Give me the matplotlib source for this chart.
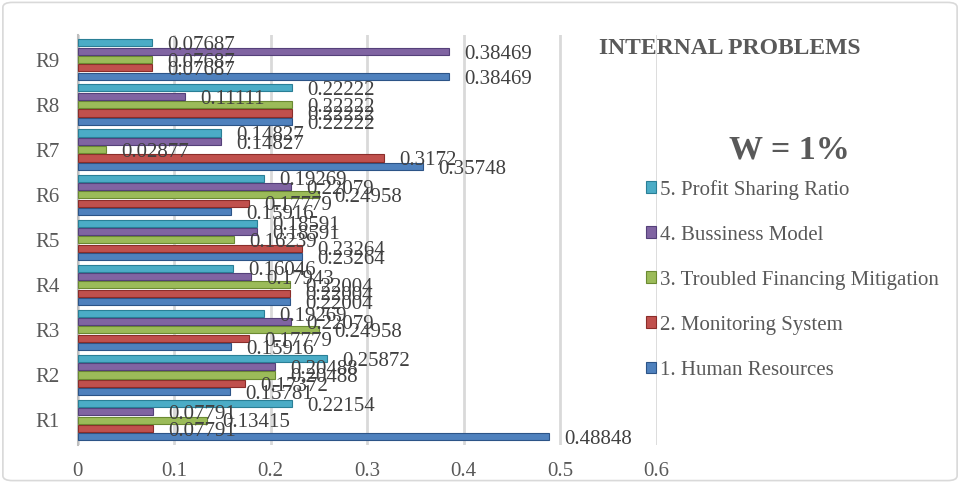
import matplotlib.pyplot as plt
import numpy as np
from matplotlib.patches import FancyBboxPatch

plt.rcParams['font.family'] = ['Liberation Serif', 'DejaVu Serif']

regions = ['R1', 'R2', 'R3', 'R4', 'R5', 'R6', 'R7', 'R8', 'R9']

series_names = ['1. Human Resources', '2. Monitoring System',
                '3. Troubled Financing Mitigation', '4. Bussiness Model',
                '5. Profit Sharing Ratio']

human_resources = [0.48848, 0.15781, 0.15916, 0.22004, 0.23264, 0.15916, 0.35748, 0.22222, 0.38469]
monitoring = [0.07791, 0.17372, 0.17779, 0.22004, 0.23264, 0.17779, 0.3172, 0.22222, 0.07687]
troubled = [0.13415, 0.20488, 0.24958, 0.22004, 0.16239, 0.24958, 0.02877, 0.22222, 0.07687]
business = [0.07791, 0.20488, 0.22079, 0.17943, 0.18591, 0.22079, 0.14827, 0.11111, 0.38469]
profit = [0.22154, 0.25872, 0.19269, 0.16046, 0.18591, 0.19269, 0.14827, 0.22222, 0.07687]

colors = ['#4F81BD', '#C0504D', '#9BBB59', '#8064A2', '#4BACC6']
edges = ['#2C5487', '#8B2D2A', '#6B8A32', '#55407A', '#2A7F96']

fig = plt.figure(figsize=(9.6, 4.83), dpi=100)
ax = fig.add_axes([0.081, 0.079, 0.603, 0.849])

y = np.arange(len(regions))
h = 0.185
all_series = [human_resources, monitoring, troubled, business, profit]
bars = []
for i, vals in enumerate(all_series):
    pos = y - 2 * h + i * h
    b = ax.barh(pos, vals, height=h * 0.85, color=colors[i], edgecolor=edges[i],
                linewidth=0.8, label=series_names[i], zorder=3)
    bars.append(b)
    for p, v in zip(pos, vals):
        ax.annotate(f'{v:g}', (v, p), xytext=(11, -2), textcoords='offset points',
                    ha='left', va='center', fontsize=15, color='#404040', zorder=4)

ax.set_xlim(0, 0.6)
ax.set_ylim(-0.55, 8.55)
ax.set_yticks(y)
ax.set_yticklabels(regions)
ax.set_xticks([0, 0.1, 0.2, 0.3, 0.4, 0.5, 0.6])
ax.set_xticklabels(['0', '0.1', '0.2', '0.3', '0.4', '0.5', '0.6'])
ax.tick_params(axis='both', labelsize=15, colors='#595959', length=0)
ax.tick_params(axis='x', pad=12)
ax.tick_params(axis='y', pad=13)
ax.xaxis.grid(True, color='#D9D9D9', linewidth=2, zorder=0)
for s in ['top', 'right', 'bottom']:
    ax.spines[s].set_visible(False)
ax.spines['left'].set_color('#BFBFBF')
ax.spines['left'].set_linewidth(1.5)

fig.text(0.760, 0.900, 'INTERNAL PROBLEMS', ha='center', va='center',
         fontsize=17, fontweight='bold', color='#595959')
fig.text(0.822, 0.689, 'W = 1%', ha='center', va='center',
         fontsize=24.5, fontweight='bold', color='#595959')

handles = bars[::-1]
labels = series_names[::-1]
fig.legend(handles, labels, loc='upper left', bbox_to_anchor=(0.664, 0.645),
           frameon=False, fontsize=15, labelcolor='#595959',
           handlelength=0.5, handleheight=0.5, handletextpad=0.2,
           labelspacing=1.25, borderaxespad=0)

border = FancyBboxPatch((0.003, 0.005), 0.994, 0.99, boxstyle='round,pad=0,rounding_size=0.01',
                        transform=fig.transFigure, fill=False, edgecolor='#D9D9D9', linewidth=1.2)
fig.patches.append(border)

fig.savefig('out.png', dpi=100)
